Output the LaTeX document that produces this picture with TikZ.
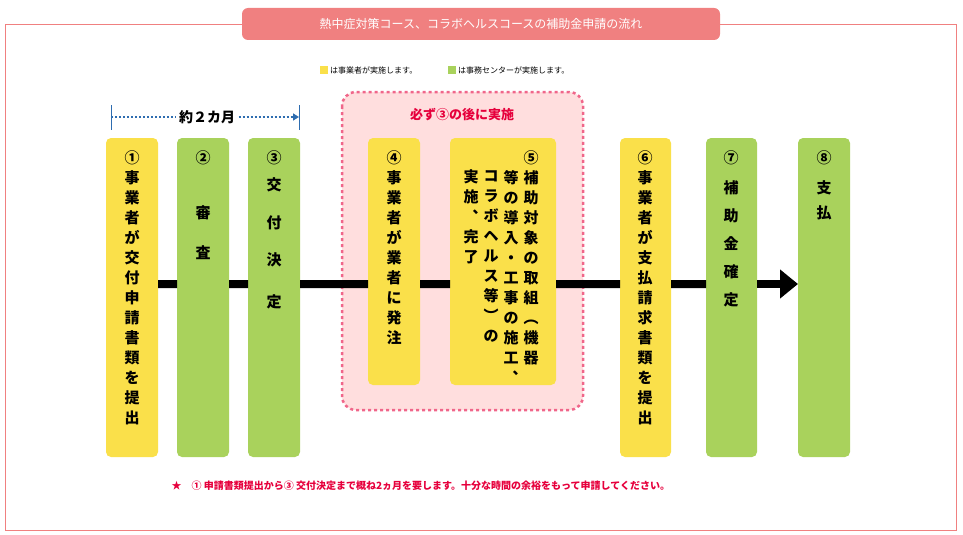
\documentclass[tikz,border=0pt]{standalone}
\usepackage{fontspec}
\newfontfamily\cjk{Noto Sans CJK JP}
\usetikzlibrary{arrows.meta}
\definecolor{framered}{HTML}{F08080}
\definecolor{stepyellow}{HTML}{FAE04A}
\definecolor{stepgreen}{HTML}{A9D25C}
\definecolor{notered}{HTML}{E6003C}
\definecolor{arrowblue}{HTML}{2E6DB0}
\begin{document}
\begin{tikzpicture}[x=1pt,y=-1pt,
  stepbox/.style={rounded corners=5pt, draw=none},
  steptext/.style={anchor=north, align=center, inner sep=0pt,
    font=\cjk\bfseries\fontsize{15}{20}\selectfont}]
\useasboundingbox (0,0) rectangle (963,535);
% frame and title
\draw[framered, line width=1pt] (5,25) rectangle (956,530);
\node[fill=framered, rounded corners=6pt, minimum width=478pt, minimum height=32pt,
  text=white, font=\cjk\fontsize{12}{14}\selectfont] (title) at (481,24)
  {熱中症対策コース、コラボヘルスコースの補助金申請の流れ};
% legend
\fill[stepyellow] (320,66) rectangle (328,74);
\node[anchor=west, inner sep=1pt, font=\cjk\fontsize{8}{10}\selectfont] (legy) at (329,70) {は事業者が実施します。};
\fill[stepgreen] (448,66) rectangle (456,74);
\node[anchor=west, inner sep=1pt, font=\cjk\fontsize{8}{10}\selectfont] (legg) at (457,70) {は事務センターが実施します。};
% period
\node[font=\cjk\bfseries\fontsize{14}{16}\selectfont] (period) at (207,117) {約２カ月};
\coordinate (pl) at (111,117);
\coordinate (pr) at (299,117);
\draw[arrowblue, line width=1pt] (111,105) -- (111,130) (299,105) -- (299,130);
\draw[arrowblue, line width=2pt, dotted] (pl) -- (period.west);
\draw[arrowblue, line width=2pt, dotted, -{Triangle[length=6pt,width=7pt]}] (period.east) -- (pr);
% after 3 area
\draw[notered!60, fill=red!13, line width=2.5pt, dashed, rounded corners=14pt] (342,92) rectangle (583,410);
\node[text=notered, font=\cjk\bfseries\fontsize{13}{15}\selectfont] (must) at (462,115) {必ず③の後に実施};
% steps
\fill[stepyellow, stepbox] (106,138) rectangle (158,457) coordinate (b1);
\fill[stepgreen, stepbox] (177,138) rectangle (229,457) coordinate (b2);
\fill[stepgreen, stepbox] (248,138) rectangle (300,457) coordinate (b3);
\fill[stepyellow, stepbox] (368,138) rectangle (420,385) coordinate (b4);
\fill[stepyellow, stepbox] (450,138) rectangle (556,385) coordinate (b5);
\fill[stepyellow, stepbox] (620,138) rectangle (671,457) coordinate (b6);
\fill[stepgreen, stepbox] (706,138) rectangle (757,457) coordinate (b7);
\fill[stepgreen, stepbox] (798,138) rectangle (850,457) coordinate (b8);
% main arrow
\coordinate (astart) at (158,284);
\coordinate (aend) at (798,284);
\fill (158,280) rectangle (177,288) (229,280) rectangle (248,288) (300,280) rectangle (368,288)
  (420,280) rectangle (450,288) (556,280) rectangle (620,288) (671,280) rectangle (706,288);
\draw[line width=8pt, -{Triangle[length=18pt,width=28pt]}] (757,284) -- (aend);
% texts
\node[steptext] (t1) at (132,150) {①\\事\\業\\者\\が\\交\\付\\申\\請\\書\\類\\を\\提\\出};
\node[steptext] (t2) at (203,150) {②\\[35pt]審\\[20pt]査};
\node[steptext] (t3) at (274,150) {③\\[7pt]交\\[18pt]付\\[17pt]決\\[22pt]定};
\node[steptext] (t4) at (394,150) {④\\事\\業\\者\\が\\業\\者\\に\\発\\注};
\node[steptext] (t5) at (531,150) {⑤\\補\\助\\対\\象\\の\\取\\組\\︵\\機\\器};
\node[steptext] (t5b) at (511,170) {等\\の\\導\\入\\・\\工\\事\\の\\施\\工\\︑};
\node[steptext] (t5c) at (491,170) {コ\\ラ\\ボ\\ヘ\\ル\\ス\\等\\︶\\の};
\node[steptext] (t5d) at (471,170) {実\\施\\︑\\完\\了};
\node[steptext] (t6) at (645,150) {⑥\\事\\業\\者\\が\\支\\払\\請\\求\\書\\類\\を\\提\\出};
\node[steptext] (t7) at (731,150) {⑦\\[10pt]補\\[8pt]助\\[8pt]金\\[8pt]確\\[8pt]定};
\node[steptext] (t8) at (824,150) {⑧\\[10pt]支\\[5pt]払};
% note
\node[anchor=west, text=notered, font=\cjk\bfseries\fontsize{10}{12}\selectfont] (note) at (168,486)
  {★\quad ① 申請書類提出から③ 交付決定まで概ね2ヵ月を要します。十分な時間の余裕をもって申請してください。};
\end{tikzpicture}
\end{document}
